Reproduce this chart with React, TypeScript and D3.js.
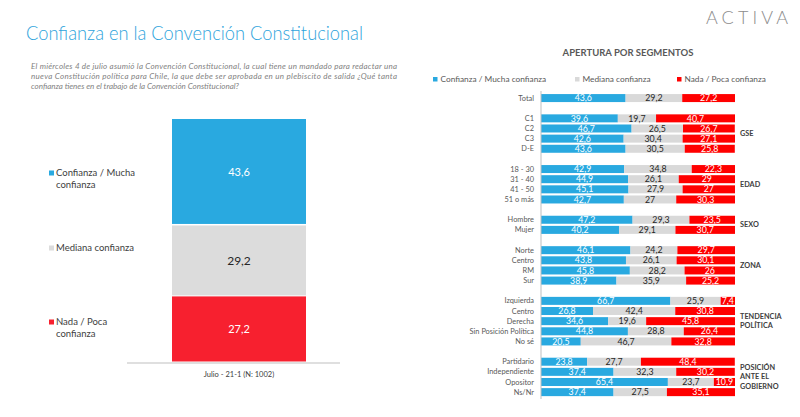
import React from "react";
import * as d3 from "d3";

const W = 800;
const H = 417;

const titleText = "Confianza en la Convención Constitucional";
const subtitleLines = [
  "El miércoles 4 de julio asumió la Convención Constitucional, la cual tiene un mandado para redactar una",
  "nueva Constitución política para Chile, la que debe ser aprobada en un plebiscito de salida ¿Qué tanta",
  "confianza tienes en el trabajo de la Convención Constitucional?",
];

const seriesNames = ["Confianza / Mucha confianza", "Mediana confianza", "Nada / Poca confianza"];
const leftLegendLines = [["Confianza / Mucha", "confianza"], ["Mediana confianza"], ["Nada / Poca", "confianza"]];
const totalValues = [43.6, 29.2, 27.2];
const totalCategory = "Julio - 21-1 (N: 1002)";

const segments = [
  "Total",
  "C1", "C2", "C3", "D-E",
  "18 - 30", "31 - 40", "41 - 50", "51 o más",
  "Hombre", "Mujer",
  "Norte", "Centro", "RM", "Sur",
  "Izquierda", "Centro", "Derecha", "Sin Posición Política", "No sé",
  "Partidario", "Independiente", "Opositor", "Ns/Nr",
];
const groupOf = [0, 1, 1, 1, 1, 2, 2, 2, 2, 3, 3, 4, 4, 4, 4, 5, 5, 5, 5, 5, 6, 6, 6, 6];
const groupLabels = [[], ["GSE"], ["EDAD"], ["SEXO"], ["ZONA"], ["TENDENCIA", "POLÍTICA"], ["POSICIÓN", "ANTE EL", "GOBIERNO"]];

const confianza = [43.6, 39.6, 46.7, 42.6, 43.6, 42.9, 44.9, 45.1, 42.7, 47.2, 40.2, 46.1, 43.8, 45.8, 38.9, 66.7, 26.8, 34.6, 44.8, 20.5, 23.8, 37.4, 65.4, 37.4];
const mediana = [29.2, 19.7, 26.5, 30.4, 30.5, 34.8, 26.1, 27.9, 27, 29.3, 29.1, 24.2, 26.1, 28.2, 35.9, 25.9, 42.4, 19.6, 28.8, 46.7, 27.7, 32.3, 23.7, 27.5];
const nada = [27.2, 40.7, 26.7, 27.1, 25.8, 22.3, 29, 27, 30.3, 23.5, 30.7, 29.7, 30.1, 26, 25.2, 7.4, 30.8, 45.8, 26.4, 32.8, 48.4, 30.2, 10.9, 35.1];

const BLUE = "#29a9e0";
const GREY = "#d9d9d9";
const RED_R = "#ff0000";
const RED_L = "#f7202f";
const FONT = "Lato, 'Open Sans', sans-serif";

const fmt = (v: number) => String(v).replace(".", ",");

export default function App() {
  // left chart
  const yL = d3.scaleLinear().domain([0, 100]).range([362, 119]);
  const leftX0 = 172, leftX1 = 306;
  const leftStack: { y0: number; y1: number; v: number; i: number }[] = [];
  {
    let acc = 0;
    [2, 1, 0].forEach((i) => {
      leftStack.push({ y0: acc, y1: acc + totalValues[i], v: totalValues[i], i });
      acc += totalValues[i];
    });
  }
  const leftColors = [BLUE, "#dcdcdc", RED_L];
  const leftLegendY = [[173, 185], [248], [322, 334]];

  // right chart
  const nSlots = segments.length + groupLabels.length - 1;
  const slots = d3.range(nSlots);
  const yR = d3.scaleBand<number>().domain(slots).range([93, 93 + nSlots * 10.14]).paddingInner(0.2).paddingOuter(0.1);
  const xR = d3.scaleLinear().domain([0, 100]).range([541, 735]);
  const barH = 8;
  const rowY = (i: number) => (yR(i + groupOf[i]) as number) + yR.bandwidth() / 2;
  const rightColors = [BLUE, GREY, RED_R];

  return (
    <svg width={W} height={H} style={{ display: "block", position: "absolute", left: 0, top: 0, background: "#fff" }}>
      <rect width={W} height={H} fill="#fff" />
      {/* Title */}
      <text x={26} y={40} fill="#2ea3dc" fontFamily={FONT} fontSize={19} fontWeight={300} textLength={337} lengthAdjust="spacingAndGlyphs">
        {titleText}
      </text>
      {subtitleLines.map((l, i) => (
        <text key={i} x={31} y={69 + i * 10} fill="#7f7f7f" fontFamily={FONT} fontSize={8} fontStyle="italic"
          {...(i < 2 ? { textLength: 366, lengthAdjust: "spacing" } : {})}>
          {l}
        </text>
      ))}
      {/* Logo */}
      <text x={706} y={24} fill="#8c8c8c" fontFamily={FONT} fontSize={18} fontWeight={300} letterSpacing={3} textLength={85} lengthAdjust="spacing">
        ACTIVA
      </text>

      {/* Left chart */}
      {leftStack.map((s) => (
        <g key={s.i}>
          <rect x={leftX0} width={leftX1 - leftX0} y={yL(s.y1) + (s.i === 0 ? 0 : 0.5)} height={yL(s.y0) - yL(s.y1) - 1} fill={leftColors[s.i]} />
          <text x={(leftX0 + leftX1) / 2} y={(yL(s.y0) + yL(s.y1)) / 2} dy="0.35em" textAnchor="middle" fontFamily={FONT} fontSize={s.i === 1 ? 12 : 11}
            fill={s.i === 1 ? "#262626" : "#ffffff"}>
            {fmt(s.v)}
          </text>
        </g>
      ))}
      <line x1={127} x2={340} y1={363} y2={363} stroke="#bfbfbf" strokeWidth={1} />
      <text x={239} y={374} dy="0.35em" textAnchor="middle" fontFamily={FONT} fontSize={7.5} fill="#404040">{totalCategory}</text>
      {leftLegendLines.map((lines, i) => (
        <g key={i}>
          <rect x={49} y={leftLegendY[i][0] - 2.5} width={5} height={5} fill={leftColors[i]} />
          {lines.map((t, j) => (
            <text key={j} x={56} y={leftLegendY[i][j]} dy="0.35em" fontFamily={FONT} fontSize={9.5} fill="#404040">{t}</text>
          ))}
        </g>
      ))}

      {/* Right chart */}
      <text x={628} y={53} dy="0.35em" textAnchor="middle" fontFamily={FONT} fontSize={9.5} fontWeight={700} fill="#595959">APERTURA POR SEGMENTOS</text>
      {seriesNames.map((n, i) => {
        const xs = [433, 575, 677][i];
        return (
          <g key={i}>
            <rect x={xs} y={77} width={4.5} height={4.5} fill={rightColors[i]} />
            <text x={xs + 7.5} y={79.5} dy="0.35em" fontFamily={FONT} fontSize={8.3} fill="#595959">{n}</text>
          </g>
        );
      })}
      {segments.map((seg, i) => {
        const cy = rowY(i);
        const vals = [confianza[i], mediana[i], nada[i]];
        let acc = 0;
        return (
          <g key={i}>
            <text x={534} y={cy} dy="0.35em" textAnchor="end" fontFamily={FONT} fontSize={7.4} fill="#595959">{seg}</text>
            {vals.map((v, k) => {
              const a = acc;
              acc += v;
              const x0 = xR(a), x1 = xR(Math.min(acc, 100));
              return (
                <g key={k}>
                  <rect x={x0} y={cy - barH / 2} width={Math.max(0, x1 - x0)} height={barH} fill={rightColors[k]} />
                  <text x={(x0 + x1) / 2} y={cy} dy="0.36em" textAnchor="middle" fontFamily={FONT} fontSize={8.8}
                    fill={k === 1 ? "#262626" : "#ffffff"}>{fmt(v)}</text>
                </g>
              );
            })}
          </g>
        );
      })}
      <line x1={541} x2={541} y1={91} y2={399} stroke="#bfbfbf" strokeWidth={1} />
      {groupLabels.map((lines, g) => {
        if (!lines.length) return null;
        const idx = groupOf.map((gg, i) => (gg === g ? i : -1)).filter((i) => i >= 0);
        const cy = (rowY(idx[0]) + rowY(idx[idx.length - 1])) / 2;
        const lh = 9.3;
        return (
          <g key={g}>
            {lines.map((t, j) => (
              <text key={j} x={740} y={cy + (j - (lines.length - 1) / 2) * lh} dy="0.35em" fontFamily={FONT} fontSize={7.3} fontWeight={700} fill="#404040">{t}</text>
            ))}
          </g>
        );
      })}
    </svg>
  );
}
